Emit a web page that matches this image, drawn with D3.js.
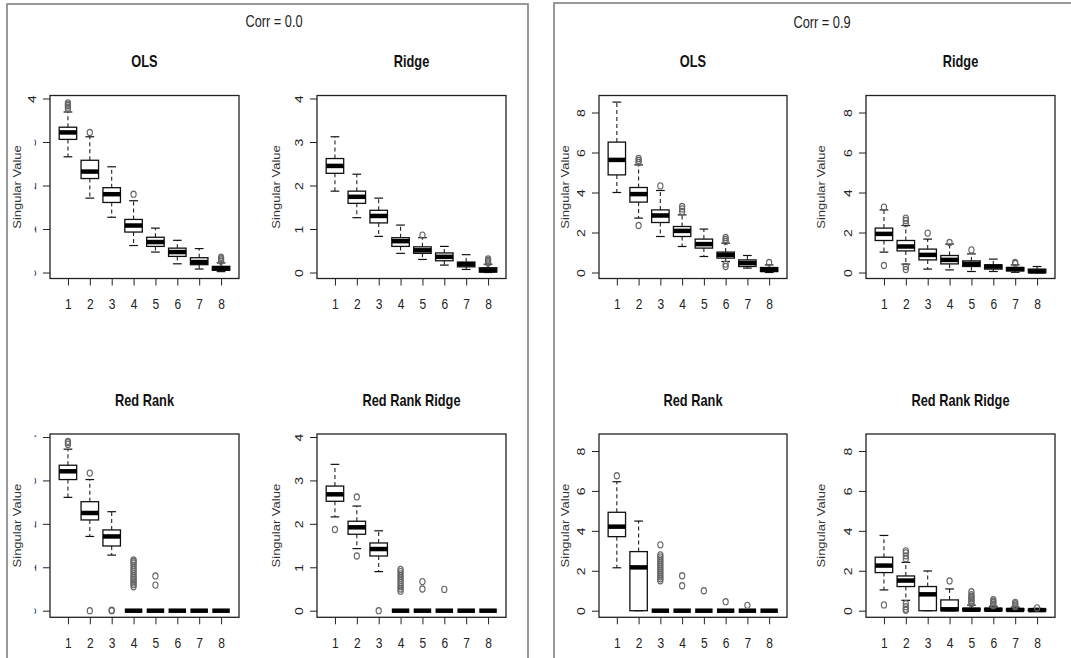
<!DOCTYPE html>
<html>
<head>
<meta charset="utf-8">
<script src="https://cdn.jsdelivr.net/npm/d3@7"></script>
<style>
  body { margin: 0; background: #fff; }
  svg { display: block; }
  text { font-family: "Liberation Sans", Arial, sans-serif; fill: #222; }
</style>
</head>
<body>
<svg id="chart" width="1071" height="658"></svg>
<script>
// x categories and y ticks
const components = [1, 2, 3, 4, 5, 6, 7, 8];
const ticksCorr0 = [0, 1, 2, 3, 4];
const ticksCorr9 = [0, 2, 4, 6, 8];
const zeroBox = [0, 0, 0, 0, 0];

// box stats per component: [lower whisker, q1, median, q3, upper whisker]
const olsCorr0 = [
  [2.66, 3.06, 3.22, 3.34, 3.69], [1.71, 2.16, 2.32, 2.58, 3.12],
  [1.27, 1.61, 1.80, 1.95, 2.43], [0.62, 0.93, 1.08, 1.22, 1.65],
  [0.47, 0.60, 0.70, 0.81, 1.02], [0.20, 0.37, 0.47, 0.56, 0.74],
  [0.08, 0.18, 0.24, 0.34, 0.55], [0.02, 0.05, 0.10, 0.14, 0.22]
];
const olsCorr0Out = [[3.76, 3.8, 3.84, 3.87, 3.9], [3.22], [], [1.8], [], [], [], [0.26, 0.29, 0.32, 0.35]];

const ridgeCorr0 = [
  [1.87, 2.28, 2.45, 2.62, 3.12], [1.26, 1.59, 1.74, 1.87, 2.26],
  [0.83, 1.14, 1.30, 1.43, 1.71], [0.44, 0.60, 0.72, 0.80, 1.09],
  [0.30, 0.44, 0.51, 0.59, 0.80], [0.17, 0.27, 0.36, 0.45, 0.60],
  [0.07, 0.13, 0.19, 0.24, 0.41], [0.00, 0.01, 0.05, 0.11, 0.19]
];
const ridgeCorr0Out = [[], [], [], [], [0.86], [], [], [0.22, 0.25, 0.28, 0.31]];

const redRankCorr0 = [
  [2.61, 3.02, 3.21, 3.35, 3.72], [1.71, 2.09, 2.25, 2.51, 3.02],
  [1.28, 1.49, 1.71, 1.86, 2.28], zeroBox, zeroBox, zeroBox, zeroBox, zeroBox
];
const redRankCorr0Out = [
  [3.83, 3.87, 3.9], [3.17, 0], [0, 0.01],
  [0.55, 0.6, 0.64, 0.68, 0.72, 0.76, 0.8, 0.85, 0.9, 0.95, 1.0, 1.05, 1.1, 1.14, 1.17],
  [0.8, 0.59], [], [], []
];

const rrRidgeCorr0 = [
  [2.16, 2.52, 2.68, 2.87, 3.37], [1.43, 1.76, 1.92, 2.06, 2.41],
  [0.90, 1.26, 1.42, 1.56, 1.84], zeroBox, zeroBox, zeroBox, zeroBox, zeroBox
];
const rrRidgeCorr0Out = [
  [1.87], [2.62, 1.26], [0],
  [0.45, 0.5, 0.55, 0.6, 0.65, 0.7, 0.75, 0.8, 0.85, 0.9, 0.95],
  [0.67, 0.5], [0.49], [], []
];

const olsCorr9 = [
  [4.00, 4.88, 5.63, 6.52, 8.52], [2.72, 3.52, 3.92, 4.25, 5.38],
  [1.80, 2.50, 2.85, 3.13, 4.10], [1.30, 1.80, 2.08, 2.30, 2.88],
  [0.80, 1.22, 1.42, 1.67, 2.17], [0.55, 0.72, 0.88, 1.02, 1.47],
  [0.22, 0.30, 0.47, 0.63, 0.85], [0.00, 0.05, 0.13, 0.25, 0.38]
];
const olsCorr9Out = [[], [5.5, 5.6, 5.7, 2.35], [4.33], [3.05, 3.18, 3.3], [], [1.55, 1.65, 1.75, 0.42, 0.3], [], [0.5]];

const ridgeCorr9 = [
  [1.02, 1.60, 1.93, 2.22, 3.13], [0.42, 1.08, 1.30, 1.60, 2.35],
  [0.17, 0.63, 0.88, 1.17, 1.67], [0.13, 0.43, 0.63, 0.85, 1.42],
  [0.05, 0.30, 0.43, 0.58, 0.93], [0.05, 0.17, 0.30, 0.38, 0.67],
  [0.01, 0.08, 0.17, 0.25, 0.38], [0.00, 0.00, 0.05, 0.17, 0.30]
];
const ridgeCorr9Out = [[3.27, 0.35], [2.45, 2.6, 2.72, 0.3, 0.15], [1.97], [1.5], [1.13], [], [0.45, 0.5], []];

const redRankCorr9 = [
  [2.15, 3.71, 4.21, 4.93, 6.46], [0, 0, 2.17, 2.96, 4.49],
  zeroBox, zeroBox, zeroBox, zeroBox, zeroBox, zeroBox
];
const redRankCorr9Out = [
  [6.76], [],
  [1.5, 1.6, 1.7, 1.8, 1.9, 2.0, 2.1, 2.2, 2.3, 2.4, 2.5, 2.6, 2.7, 2.8, 3.3],
  [1.75, 1.25], [1.0], [0.45], [0.27], []
];

const rrRidgeCorr9 = [
  [1.04, 1.91, 2.26, 2.68, 3.77], [0.52, 1.21, 1.51, 1.74, 2.42],
  [0, 0, 0.82, 1.21, 1.99], [0, 0, 0.07, 0.54, 1.09],
  [0, 0, 0.05, 0.12, 0.28], [0, 0, 0.05, 0.12, 0.22],
  [0, 0, 0.04, 0.10, 0.18], [0, 0, 0.03, 0.08, 0.12]
];
const rrRidgeCorr9Out = [
  [0.29], [2.6, 2.75, 2.9, 3.0, 0.35, 0.2, 0.08, 0.02], [], [1.49],
  [0.35, 0.42, 0.5, 0.58, 0.65, 0.72, 0.8, 0.95],
  [0.25, 0.32, 0.4, 0.47, 0.55], [0.2, 0.27, 0.35, 0.42], [0.14]
];

// layout (pixels)
const cols = [
  {x0: 50, x1: 239, ylab: 17.7},
  {x0: 317, x1: 506, ylab: 276.7},
  {x0: 599, x1: 787, ylab: 565.7},
  {x0: 866, x1: 1055, ylab: 821.7}
];
const rows = [
  {y0: 95.5, y1: 278.5, zero: 272.5},
  {y0: 434, y1: 617.3, zero: 610.7}
];
const squeeze = 'scale(0.8,1)';
const font = '"Liberation Sans", Arial, sans-serif';

const panels = [
  {title: 'OLS', stats: olsCorr0, out: olsCorr0Out, col: 0, row: 0, ticks: ticksCorr0, pad: 3},
  {title: 'Ridge', stats: ridgeCorr0, out: ridgeCorr0Out, col: 1, row: 0, ticks: ticksCorr0, pad: 3},
  {title: 'Red Rank', stats: redRankCorr0, out: redRankCorr0Out, col: 0, row: 1, ticks: ticksCorr0, pad: 3},
  {title: 'Red Rank Ridge', stats: rrRidgeCorr0, out: rrRidgeCorr0Out, col: 1, row: 1, ticks: ticksCorr0, pad: 3},
  {title: 'OLS', stats: olsCorr9, out: olsCorr9Out, col: 2, row: 0, ticks: ticksCorr9, pad: 17},
  {title: 'Ridge', stats: ridgeCorr9, out: ridgeCorr9Out, col: 3, row: 0, ticks: ticksCorr9, pad: 17},
  {title: 'Red Rank', stats: redRankCorr9, out: redRankCorr9Out, col: 2, row: 1, ticks: ticksCorr9, pad: 17},
  {title: 'Red Rank Ridge', stats: rrRidgeCorr9, out: rrRidgeCorr9Out, col: 3, row: 1, ticks: ticksCorr9, pad: 17}
];

const svg = d3.select('#chart');

// clip for the left column y labels, which are cut off in the original
svg.append('defs').append('clipPath').attr('id', 'cutLeft')
  .append('rect').attr('x', 34.6).attr('y', 0).attr('width', 15).attr('height', 658);

// outer frames of the two plot groups
svg.append('rect').attr('x', 7).attr('y', 4).attr('width', 521).attr('height', 700)
  .attr('fill', 'none').attr('stroke', '#808080').attr('stroke-width', 1.6);
svg.append('rect').attr('x', 554).attr('y', 3).attr('width', 600).attr('height', 700)
  .attr('fill', 'none').attr('stroke', '#808080').attr('stroke-width', 1.6);

svg.append('text').attr('transform', 'translate(274,27) ' + squeeze)
  .attr('text-anchor', 'middle').style('font-size', '16px').text('Corr = 0.0');
svg.append('text').attr('transform', 'translate(822,28) ' + squeeze)
  .attr('text-anchor', 'middle').style('font-size', '16px').text('Corr = 0.9');

function drawPanel(p) {
  const c = cols[p.col], r = rows[p.row];
  const top = d3.max(p.ticks);
  const x = d3.scaleLinear().domain([0.18, 8.82]).range([c.x0, c.x1]);
  const y = d3.scaleLinear().domain([0, top]).range([r.zero, r.y0 + p.pad]);
  const g = svg.append('g');
  const unit = x(1) - x(0);

  // title
  g.append('text').attr('transform', `translate(${(c.x0 + c.x1) / 2},${r.y0 - 28.5}) ` + squeeze)
    .attr('text-anchor', 'middle').style('font-size', '16px').style('font-weight', 'bold')
    .style('fill', '#111').text(p.title);

  // y title
  g.append('text').attr('transform', `translate(${c.ylab},${(r.y0 + r.y1) / 2}) ${squeeze} rotate(-90)`)
    .attr('text-anchor', 'middle').attr('dy', '0.35em').style('font-size', '13px')
    .style('fill', '#333').text('Singular Value');

  // x axis
  const xa = g.append('g').attr('transform', `translate(0,${r.y1})`)
    .call(d3.axisBottom(x).tickValues(components).tickSize(7).tickSizeOuter(0));
  xa.select('.domain').remove();
  xa.selectAll('line').attr('stroke', '#222');
  xa.selectAll('text').attr('y', 0).attr('dy', 0)
    .attr('transform', 'translate(0,30.5) ' + squeeze)
    .style('font-size', '15px').style('font-family', font);

  // y axis
  const ya = g.append('g').attr('transform', `translate(${c.x0},0)`)
    .call(d3.axisLeft(y).tickValues(p.ticks).tickFormat(d3.format('d')).tickSize(7).tickSizeOuter(0));
  ya.select('.domain').remove();
  ya.selectAll('line').attr('stroke', '#222');
  ya.selectAll('text').attr('x', 0).attr('dy', '0.35em').attr('text-anchor', 'middle')
    .attr('transform', `translate(-18,0) ${squeeze} rotate(-90)`)
    .style('font-size', '14px').style('font-family', font);

  // left column: labels are cut off in the original except the top one of OLS
  if (p.col === 0) {
    ya.selectAll('.tick').filter(d => !(p.row === 0 && d === top)).each(function () {
      const t = d3.select(this);
      const txt = t.select('text').remove();
      const wrap = g.append('g').attr('clip-path', 'url(#cutLeft)')
        .append('g').attr('transform', `translate(${c.x0},0) ` + t.attr('transform'));
      wrap.node().appendChild(txt.node());
    });
  }

  // boxes
  const boxes = g.selectAll('.box').data(p.stats).join('g').attr('class', 'box')
    .attr('transform', (d, i) => `translate(${x(components[i])},0)`);

  boxes.append('line').attr('y1', d => y(d[3])).attr('y2', d => y(d[4]))
    .attr('stroke', '#222').attr('stroke-dasharray', '4,3').attr('stroke-width', 1.1);
  boxes.append('line').attr('y1', d => y(d[1])).attr('y2', d => y(d[0]))
    .attr('stroke', '#222').attr('stroke-dasharray', '4,3').attr('stroke-width', 1.1);
  boxes.selectAll('.cap').data(d => [d[0], d[4]]).join('line').attr('class', 'cap')
    .attr('x1', -0.2 * unit).attr('x2', 0.2 * unit)
    .attr('y1', v => y(v)).attr('y2', v => y(v))
    .attr('stroke', '#111').attr('stroke-width', 1.2);
  boxes.append('rect').attr('x', -0.4 * unit).attr('width', 0.8 * unit)
    .attr('y', d => y(d[3])).attr('height', d => y(d[1]) - y(d[3]))
    .attr('fill', '#fff').attr('stroke', '#111').attr('stroke-width', 1.3);
  boxes.append('line').attr('x1', -0.4 * unit).attr('x2', 0.4 * unit)
    .attr('y1', d => y(d[2])).attr('y2', d => y(d[2]))
    .attr('stroke', '#000').attr('stroke-width', 4.5);

  // outliers
  boxes.each(function (d, i) {
    d3.select(this).selectAll('ellipse').data(p.out[i]).join('ellipse')
      .attr('cx', 0).attr('cy', v => y(v)).attr('rx', 2.6).attr('ry', 3.1)
      .attr('fill', 'none').attr('stroke', '#666').attr('stroke-width', 1.1);
  });

  // plot frame
  g.append('rect').attr('x', c.x0).attr('y', r.y0)
    .attr('width', c.x1 - c.x0).attr('height', r.y1 - r.y0)
    .attr('fill', 'none').attr('stroke', '#222').attr('stroke-width', 1.3);
}

panels.forEach(drawPanel);
</script>
</body>
</html>
